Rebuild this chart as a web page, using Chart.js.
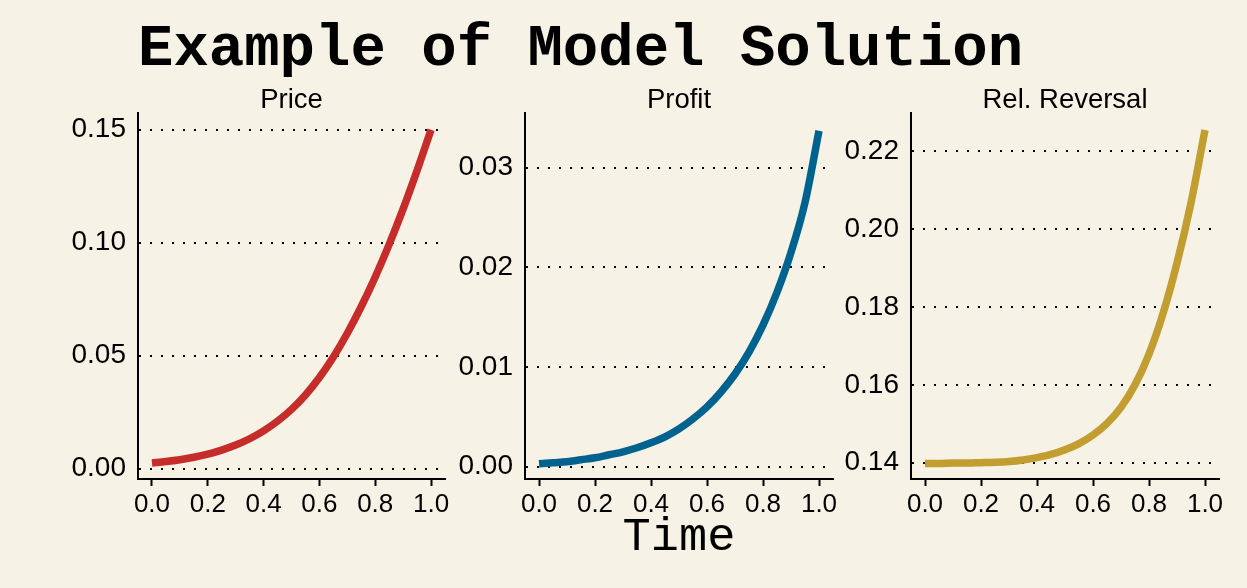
<!DOCTYPE html>
<html>
<head>
<meta charset="utf-8">
<script src="https://cdn.jsdelivr.net/npm/chart.js@4"></script>
<style>
  html, body { margin: 0; padding: 0; }
  body { width: 1247px; height: 588px; background: #f7f2e6; position: relative; overflow: hidden; }
  #main-title {
    position: absolute; left: 138px; top: 20px;
    font-family: "Courier New", "Liberation Mono", monospace;
    font-weight: bold; font-size: 59px; line-height: 59px; color: #000; white-space: nowrap;
  }
  canvas { position: absolute; }
</style>
</head>
<body>
<div id="main-title">Example of Model Solution</div>
<canvas id="price-chart" width="417" height="477" style="left:48px;top:84px"></canvas>
<canvas id="profit-chart" width="418" height="477" style="left:435px;top:84px"></canvas>
<canvas id="reversal-chart" width="418" height="477" style="left:821px;top:84px"></canvas>
<script>
// Dữ liệu
const times = [0.00, 0.05, 0.10, 0.15, 0.20, 0.25, 0.30, 0.35, 0.40, 0.45, 0.50,
               0.55, 0.60, 0.65, 0.70, 0.75, 0.80, 0.85, 0.90, 0.95, 1.00];

const priceVals = [0.0025, 0.0031, 0.0039, 0.0050, 0.0064, 0.0082, 0.0104, 0.0132, 0.0167, 0.0210, 0.0262,
                   0.0326, 0.0403, 0.0494, 0.0599, 0.0717, 0.0848, 0.0992, 0.1149, 0.1319, 0.1499];

const profitVals = [0.0003, 0.0004, 0.0005, 0.0007, 0.0009, 0.0012, 0.0015, 0.0019, 0.0024, 0.0030, 0.0038,
                    0.0048, 0.0060, 0.0075, 0.0093, 0.0115, 0.0142, 0.0175, 0.0215, 0.0265, 0.0337];

const reversalVals = [0.1398, 0.1398, 0.1399, 0.1399, 0.1400, 0.1401, 0.1403, 0.1407, 0.1413, 0.1421, 0.1433,
                      0.1449, 0.1471, 0.1501, 0.1542, 0.1600, 0.1679, 0.1783, 0.1913, 0.2068, 0.2255];

const xTicks = [0.0, 0.2, 0.4, 0.6, 0.8, 1.0];
const priceTicks = [0.00, 0.05, 0.10, 0.15];
const profitTicks = [0.00, 0.01, 0.02, 0.03];
const reversalTicks = [0.14, 0.16, 0.18, 0.20, 0.22];

Chart.defaults.font.family = '"Liberation Sans", Helvetica, Arial, sans-serif';
Chart.defaults.color = '#000';

const MONO = '"Courier New", "Liberation Mono", monospace';

function makePanel(canvasId, title, values, yTicks, yMin, yMax, color, xTitle) {
  const ctx = document.getElementById(canvasId).getContext('2d');
  return new Chart(ctx, {
    type: 'line',
    data: {
      datasets: [{
        data: times.map((t, i) => ({ x: t, y: values[i] })),
        borderColor: color,
        borderWidth: 7.5,
        borderCapStyle: 'butt',
        pointRadius: 0,
        fill: false,
        cubicInterpolationMode: 'monotone'
      }]
    },
    options: {
      responsive: false,
      animation: false,
      devicePixelRatio: 1,
      layout: { padding: { top: 0, left: 0, right: 20, bottom: 0 } },
      plugins: {
        legend: { display: false },
        tooltip: { enabled: false },
        title: {
          display: true,
          text: title,
          fullSize: false,
          color: '#000',
          font: { size: 27.5, weight: 'normal', lineHeight: 25 / 27.5 },
          padding: 0
        }
      },
      scales: {
        x: {
          type: 'linear',
          min: -0.05,
          max: 1.05,
          afterFit: s => { s.height = 82; },
          afterBuildTicks: s => { s.ticks = xTicks.map(v => ({ value: v })); },
          ticks: { font: { size: 26 }, padding: 3, maxRotation: 0, callback: v => v.toFixed(1) },
          grid: { drawOnChartArea: false, drawTicks: true, tickLength: 7, tickColor: '#000', tickWidth: 2 },
          border: { display: true, color: '#000', width: 2 },
          title: {
            display: !!xTitle,
            text: xTitle || '',
            color: '#000',
            font: { family: MONO, size: 47, lineHeight: 1.0 },
            padding: 0
          }
        },
        y: {
          type: 'linear',
          min: yMin,
          max: yMax,
          afterFit: s => { s.width = 90; },
          afterBuildTicks: s => { s.ticks = yTicks.map(v => ({ value: v })); },
          ticks: { font: { size: 28 }, padding: 12, callback: v => v.toFixed(2) },
          grid: { color: '#000', lineWidth: 2, drawTicks: false },
          border: { display: true, color: '#000', width: 2, dash: [2, 9] }
        }
      }
    }
  });
}

makePanel('price-chart', 'Price', priceVals, priceTicks, -0.0046, 0.1574, '#c62d2a', null);
makePanel('profit-chart', 'Profit', profitVals, profitTicks, -0.00123, 0.0355, '#00638f', 'Time');
makePanel('reversal-chart', 'Rel. Reversal', reversalVals, reversalTicks, 0.1358, 0.2299, '#c29e31', null);
</script>
</body>
</html>
